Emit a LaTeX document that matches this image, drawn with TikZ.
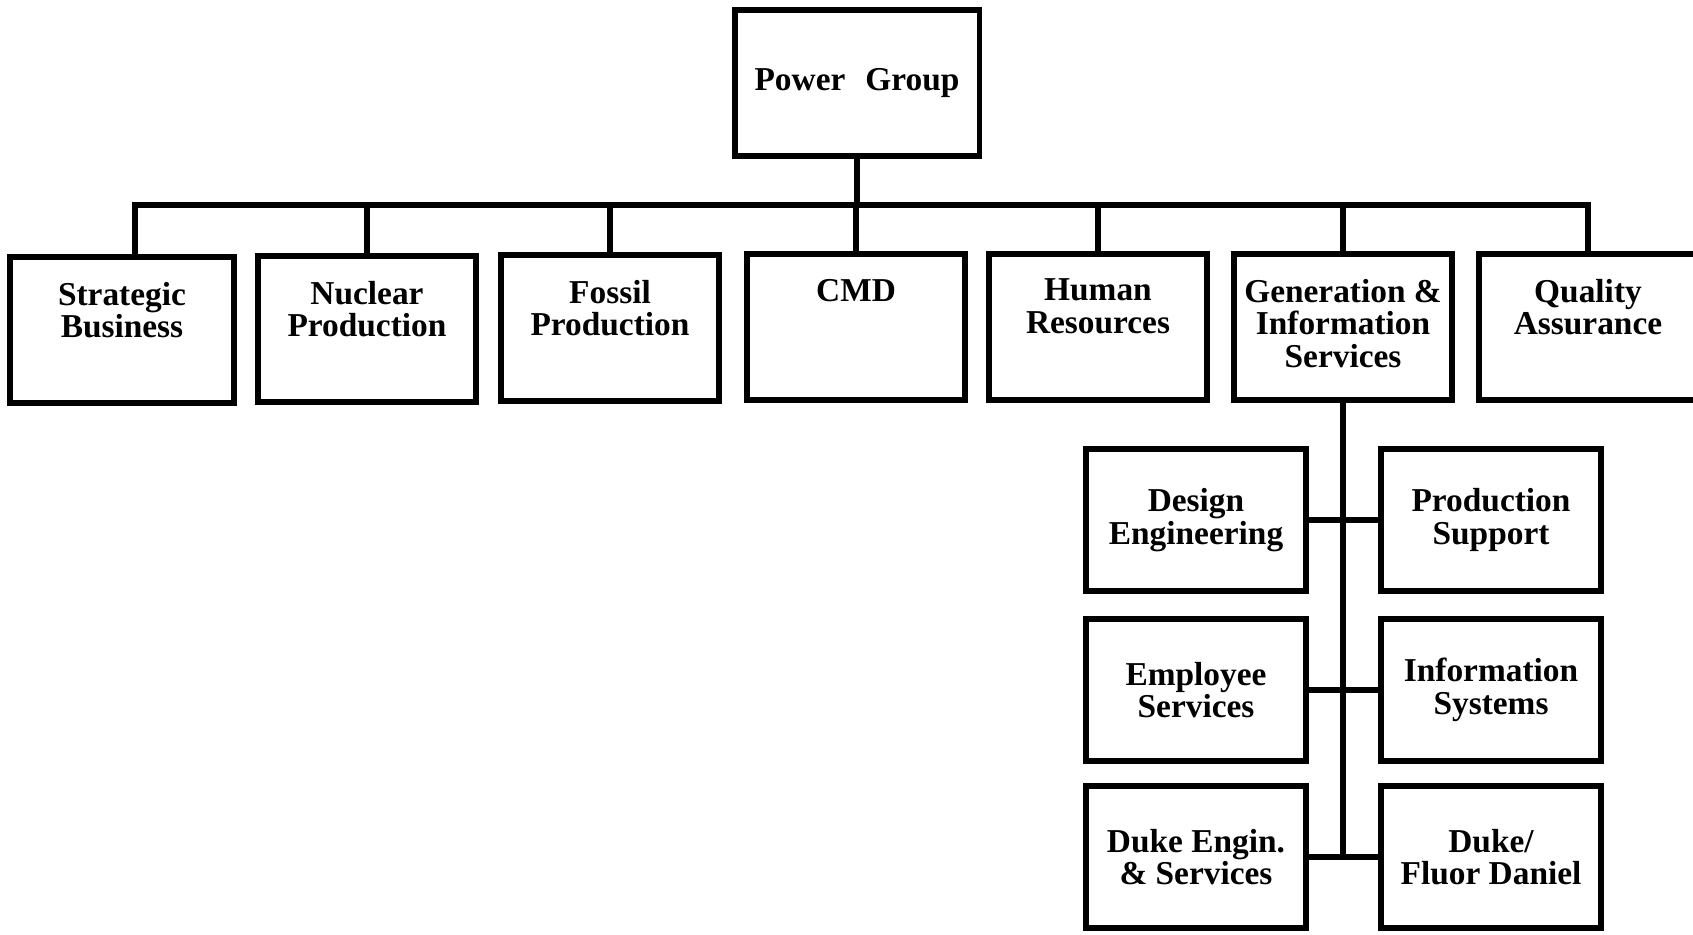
\documentclass[tikz,border=0pt]{standalone}
\usepackage{fontspec}
\setmainfont{Liberation Serif}
\newcommand{\orgfont}{\bfseries\fontsize{19}{18.5}\selectfont}
% text hanging from the top of a box, or centred in it
\newcommand{\toptext}[1]{\parbox[c][2.92cm][t]{4.3cm}{\centering\vspace*{0.5cm}#1}}
\newcommand{\midtext}[1]{\parbox[c][2.84cm][c]{4.3cm}{\centering #1}}
\tikzset{
  unitbox/.style={draw, line width=3.4pt, inner sep=0pt, align=center,
    minimum width=4.36cm, font=\orgfont},
  link/.style={line width=3.2pt}
}
\begin{document}
\begin{tikzpicture}[x=0.02cm, y=-0.02cm]
    \useasboundingbox (0,0) rectangle (1693,934);

    % Top of the chart
    \node[unitbox, minimum width=4.9cm, minimum height=2.92cm] (pg) at (857,83) {Power\hspace{0.6em}Group};

    % Departments
    \node[unitbox, minimum width=4.48cm] (sb) at (122,330) {\toptext{Strategic\\Business}};
    \node[unitbox] (np) at (367,329) {\toptext{Nuclear\\Production}};
    \node[unitbox] (fp) at (610,328) {\toptext{Fossil\\Production}};
    \node[unitbox] (cmd) at (856,327) {\toptext{CMD}};
    \node[unitbox] (hr) at (1098,327) {\toptext{Human\\Resources}};
    \node[unitbox] (gis) at (1343,327) {\toptext{Generation \&\\Information\\Services}};
    \node[unitbox] (qa) at (1588,327) {\toptext{Quality\\Assurance}};

    % Units under Generation & Information Services
    \node[unitbox, minimum width=4.4cm] (de) at (1196,520) {\midtext{Design\\Engineering}};
    \node[unitbox, minimum width=4.4cm] (ps) at (1491,520) {\midtext{Production\\Support}};
    \node[unitbox, minimum width=4.4cm] (es) at (1196,690) {\midtext{Employee\\Services}};
    \node[unitbox, minimum width=4.4cm] (is) at (1491,690) {\midtext{Information\\Systems}};
    \node[unitbox, minimum width=4.4cm] (des) at (1196,857) {\midtext{Duke Engin.\\\& Services}};
    \node[unitbox, minimum width=4.4cm] (dfd) at (1491,857) {\midtext{Duke/\\Fluor Daniel}};

    % Bus line
    \coordinate (bus) at (0,205);
    \draw[link] (pg.south) -- (pg.south |- bus);
    \draw[link] ([xshift=0.26cm]sb.north) -- ([xshift=0.26cm]sb.north |- bus) -- (qa.north |- bus) -- (qa.north);
    \foreach \u in {np,fp,cmd,hr,gis}
        \draw[link] (\u.north) -- (\u.north |- bus);

    % Trunk and branches
    \draw[link] (gis.south) -- (gis.south |- dfd.west);
    \draw[link] (de.east) -- (ps.west);
    \draw[link] (es.east) -- (is.west);
    \draw[link] (des.east) -- (dfd.west);
\end{tikzpicture}
\end{document}
